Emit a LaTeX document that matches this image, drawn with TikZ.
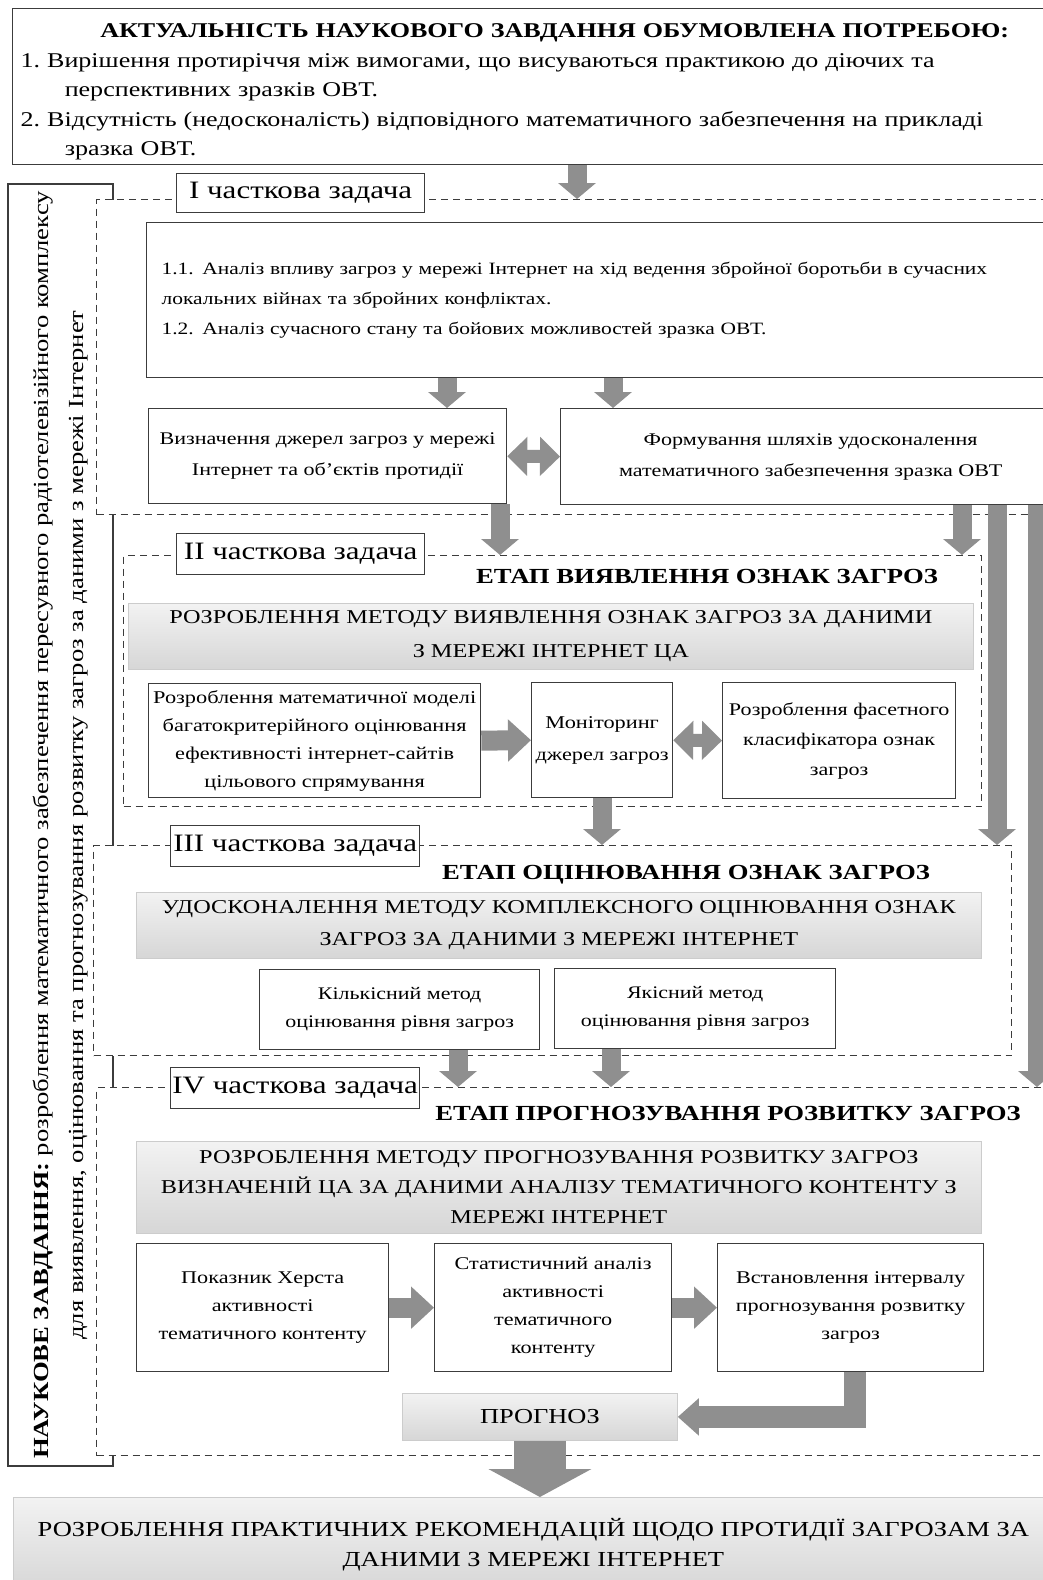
\documentclass[tikz,border=0pt]{standalone}
\usepackage{fontspec}
\setmainfont[FakeStretch=1.24]{Liberation Serif}
\usetikzlibrary{arrows.meta}

\definecolor{edgegray}{HTML}{3C3C3C}
\definecolor{arrowgray}{HTML}{8F8F8F}
\newcommand{\fsz}[2]{\fontsize{#1}{#2}\selectfont}

\tikzset{
  box/.style={draw=edgegray,line width=1.3pt,fill=white,align=center,inner sep=0pt,anchor=north west},
  stage/.style={draw=edgegray,line width=1.3pt,dash pattern=on 7pt off 5pt,fill=white,inner sep=0pt,anchor=north west},
  taskbox/.style={box,font=\fsz{25}{28}},
  method/.style={draw=black!20,line width=0.8pt,top color=black!5,bottom color=black!16,align=center,inner sep=0pt,anchor=north west},
  etap/.style={font=\bfseries\fsz{21.5}{26},inner sep=0pt},
  blk/.style={arrowgray,line width=19pt,-{Triangle[length=16pt,width=37pt]}},
  blkh/.style={arrowgray,line width=20pt,-{Triangle[length=23pt,width=41pt]}},
  dbl/.style={arrowgray,line width=13pt,{Triangle[length=20pt,width=38pt]}-{Triangle[length=20pt,width=38pt]}},
  bent/.style={arrowgray,line width=22pt,line join=miter,-{Triangle[length=21pt,width=36pt]}},
  big/.style={arrowgray,line width=52pt,-{Triangle[length=28pt,width=102pt]}}
}

\begin{document}
\begin{tikzpicture}[x=1pt,y=-1pt]
  \useasboundingbox (0,0) rectangle (1043,1580);

  \node[box,minimum width=1040,minimum height=156,text width=1024,align=left,font=\fsz{21}{29.5}] (need) at (12,8)
    {\rule{0pt}{25pt}\makebox[1068pt]{\bfseries\fsz{21}{29.5}АКТУАЛЬНІСТЬ НАУКОВОГО ЗАВДАННЯ ОБУМОВЛЕНА ПОТРЕБОЮ:}\\
     1.~Вирішення протиріччя між вимогами, що висуваються практикою до діючих та\\
     \hspace*{2.1em}перспективних зразків ОВТ.\\
     2.~Відсутність (недосконалість) відповідного математичного забезпечення на прикладі\\
     \hspace*{2.1em}зразка ОВТ.};

  % research task, rotated
  \node[box,anchor=center,rotate=90,minimum width=1282,minimum height=105,font=\fsz{21.5}{35}] (task) at (60.5,825)
    {\textbf{НАУКОВЕ ЗАВДАННЯ:} розроблення математичного забезпечення пересувного радіотелевізійного комплексу\\
     для виявлення, оцінювання та прогнозування розвитку загроз за даними з мережі Інтернет};

  % I
  \node[stage,minimum width=960,minimum height=315] (st1) at (96,199) {};
  \node[taskbox,minimum width=248,minimum height=39] (lab1) at (176,173) {I часткова задача};
  \node[box,minimum width=910,minimum height=155,text width=880,align=left,font=\fsz{17.3}{30}] (anal) at (146,222)
    {1.1. Аналіз впливу загроз у мережі Інтернет на хід ведення збройної боротьби в сучасних\\
     локальних війнах та збройних конфліктах.\\
     1.2. Аналіз сучасного стану та бойових можливостей зразка ОВТ.};
  \node[box,minimum width=358,minimum height=95,font=\fsz{17.8}{31}] (src) at (148,408)
    {Визначення джерел загроз у мережі\\Інтернет та об’єктів протидії};
  \node[box,minimum width=500,minimum height=96,font=\fsz{17.8}{31}] (way) at (560,408)
    {Формування шляхів удосконалення\\математичного забезпечення зразка ОВТ};

  % II
  \node[stage,minimum width=858,minimum height=251] (st2) at (123,555) {};
  \node[taskbox,minimum width=248,minimum height=41] (lab2) at (176,533) {II часткова задача};
  \node[etap] (etap2) at (707,576) {ЕТАП ВИЯВЛЕННЯ ОЗНАК ЗАГРОЗ};
  \node[method,minimum width=845,minimum height=66,font=\fsz{19.6}{34}] (m2) at (128,603)
    {РОЗРОБЛЕННЯ МЕТОДУ ВИЯВЛЕННЯ ОЗНАК ЗАГРОЗ ЗА ДАНИМИ\\З МЕРЕЖІ ІНТЕРНЕТ ЦА};
  \node[box,minimum width=332,minimum height=114,font=\fsz{18}{28}] (model) at (148,683)
    {Розроблення математичної моделі\\багатокритерійного оцінювання\\ефективності інтернет-сайтів\\цільового спрямування};
  \node[box,minimum width=141,minimum height=115,font=\fsz{18}{32}] (mon) at (531,682)
    {Моніторинг\\джерел загроз};
  \node[box,minimum width=233,minimum height=116,font=\fsz{17.8}{30}] (fac) at (722,682)
    {Розроблення фасетного\\класифікатора ознак\\загроз};

  % III
  \node[stage,minimum width=918,minimum height=210] (st3) at (93,845) {};
  \node[taskbox,minimum width=249,minimum height=41] (lab3) at (170,825) {III часткова задача};
  \node[etap] (etap3) at (686,875) {ЕТАП ОЦІНЮВАННЯ ОЗНАК ЗАГРОЗ};
  \node[method,minimum width=845,minimum height=66,font=\fsz{19.6}{32}] (m3) at (136,892)
    {УДОСКОНАЛЕННЯ МЕТОДУ КОМПЛЕКСНОГО ОЦІНЮВАННЯ ОЗНАК\\ЗАГРОЗ ЗА ДАНИМИ З МЕРЕЖІ ІНТЕРНЕТ};
  \node[box,minimum width=280,minimum height=80,font=\fsz{17.7}{28}] (qn) at (259,969)
    {Кількісний метод\\оцінювання рівня загроз};
  \node[box,minimum width=281,minimum height=80,font=\fsz{17.7}{28}] (ql) at (554,968)
    {Якісний метод\\оцінювання рівня загроз};

  % IV
  \node[stage,minimum width=960,minimum height=368] (st4) at (96,1087) {};
  \node[taskbox,minimum width=249,minimum height=41] (lab4) at (170,1067) {IV часткова задача};
  \node[etap] (etap4) at (728,1113) {ЕТАП ПРОГНОЗУВАННЯ РОЗВИТКУ ЗАГРОЗ};
  \node[method,minimum width=845,minimum height=92,font=\fsz{19.6}{30}] (m4) at (136,1141)
    {РОЗРОБЛЕННЯ МЕТОДУ ПРОГНОЗУВАННЯ РОЗВИТКУ ЗАГРОЗ\\ВИЗНАЧЕНІЙ ЦА ЗА ДАНИМИ АНАЛІЗУ ТЕМАТИЧНОГО КОНТЕНТУ З\\МЕРЕЖІ ІНТЕРНЕТ};
  \node[box,minimum width=252,minimum height=128,font=\fsz{17.9}{28}] (hurst) at (136,1243)
    {Показник Херста\\активності\\тематичного контенту};
  \node[box,minimum width=237,minimum height=128,font=\fsz{17.9}{28}] (stat) at (434,1243)
    {Статистичний аналіз\\активності\\тематичного\\контенту};
  \node[box,minimum width=266,minimum height=128,font=\fsz{17.9}{28}] (intv) at (717,1243)
    {Встановлення інтервалу\\прогнозування розвитку\\загроз};
  \node[method,minimum width=275,minimum height=47,font=\fsz{21.3}{24}] (prog) at (402,1393) {ПРОГНОЗ};

  \node[method,minimum width=1040,minimum height=94,font=\fsz{21.4}{30}] (rec) at (13,1497)
    {РОЗРОБЛЕННЯ ПРАКТИЧНИХ РЕКОМЕНДАЦІЙ ЩОДО ПРОТИДІЇ ЗАГРОЗАМ ЗА\\ДАНИМИ З МЕРЕЖІ ІНТЕРНЕТ};

  % arrows
  \foreach \from/\to/\x in {need/st1/577,anal/src/447,anal/src/613,src/st2/500,way/st2/962,
                            way/st3/997,way/st4/1037,mon/st3/602,qn/st4/458,ql/st4/611}
    \draw[blk] (\from.south -| \x,0) -- (\to.north -| \x,0);
  \draw[dbl] (src.east) -- (way.west);
  \draw[dbl] (mon.east) -- (fac.west);
  \foreach \from/\to in {model/mon,hurst/stat,stat/intv}
    \draw[blkh] (\from.east) -- (\to.west);
  \draw[bent] (intv.south -| 855,0) |- (prog.east);
  \draw[big] (prog.south) -- (rec.north -| prog.south);
\end{tikzpicture}
\end{document}
